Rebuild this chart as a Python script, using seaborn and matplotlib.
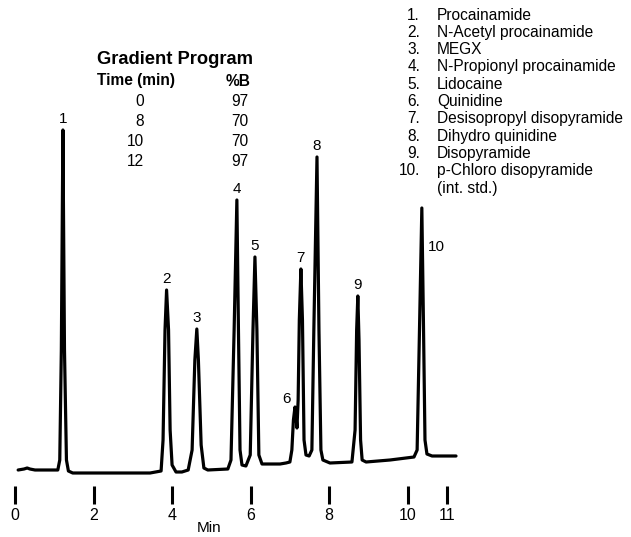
import matplotlib
matplotlib.use('Agg')
import matplotlib.pyplot as plt
import seaborn as sns
import pandas as pd

# chromatogram trace (time in min, detector signal)
time_min = [0.08, 0.23, 0.31, 0.38, 0.51, 1.09, 1.14, 1.18, 1.22, 1.26, 1.31, 1.36, 1.47,
            3.44, 3.72, 3.77, 3.82, 3.86, 3.91, 3.95, 4.00, 4.10, 4.25,
            4.41, 4.51, 4.58, 4.63, 4.67, 4.74, 4.81, 4.91,
            5.42, 5.50, 5.58, 5.65, 5.69, 5.73, 5.78, 5.88,
            5.99, 6.06, 6.11, 6.16, 6.21, 6.29, 6.75, 6.90, 7.00,
            7.05, 7.09, 7.13, 7.16, 7.18, 7.21, 7.24, 7.28, 7.32, 7.36, 7.41, 7.49,
            7.56, 7.61, 7.69, 7.74, 7.79, 7.84, 8.02, 8.58,
            8.66, 8.70, 8.73, 8.76, 8.80, 8.84, 8.94, 9.55, 10.16,
            10.24, 10.30, 10.36, 10.40, 10.44, 10.49, 10.62, 11.23]
signal = [2, 3, 4, 3, 2, 2, 12, 122, 342, 122, 12, 1, -1,
          -1, 1, 32, 142, 182, 142, 42, 7, 0, 0,
          2, 22, 112, 143, 112, 27, 4, 2,
          3, 12, 142, 272, 142, 22, 7, 6,
          17, 142, 215, 142, 17, 8, 8, 9, 10,
          22, 52, 65, 54, 44, 72, 152, 203, 152, 32, 17, 16,
          22, 142, 315, 142, 22, 12, 9, 10,
          42, 142, 176, 132, 32, 12, 10, 12, 15,
          22, 142, 264, 152, 32, 18, 16, 16]

peak_ids = ['1', '2', '3', '4', '5', '6', '7', '8', '9', '10']
peak_time = [1.22, 3.86, 4.63, 5.65, 6.11, 7.13, 7.28, 7.69, 8.73, 10.36]
peak_top = [342, 182, 143, 272, 215, 65, 203, 315, 176, 264]

tick_min = [0, 2, 4, 6, 8, 10, 11]

compounds = ['Procainamide', 'N-Acetyl procainamide', 'MEGX', 'N-Propionyl procainamide',
             'Lidocaine', 'Quinidine', 'Desisopropyl disopyramide', 'Dihydro quinidine',
             'Disopyramide', 'p-Chloro disopyramide']

grad_time = [0, 8, 10, 12]
grad_b = [97, 70, 70, 97]

sns.set_theme(style='white')
plt.rcParams['font.family'] = ['Liberation Sans', 'DejaVu Sans']
plt.rcParams['text.color'] = 'black'
plt.rcParams['xtick.color'] = 'black'
plt.rcParams['axes.labelcolor'] = 'black'

W, H = 631, 537
fig = plt.figure(figsize=(W / 100, H / 100), dpi=100)
ax = fig.add_axes([5 / W, 33 / H, 620 / W, 504 / H])

df = pd.DataFrame({'time': time_min, 'signal': signal})
sns.lineplot(data=df, x='time', y='signal', ax=ax, color='black', linewidth=2.3,
             sort=False, estimator=None)

ax.set_xlim((5 - 15) / 39.27, (625 - 15) / 39.27)
ax.set_ylim(-32, 472)
ax.set_yticks([])
ax.set_ylabel('')
ax.set_xticks(tick_min)
ax.set_xticklabels([str(t) for t in tick_min])
ax.tick_params(axis='x', direction='in', length=13, width=2.2, color='black',
               labelcolor='black', pad=3, labelsize=11.5, bottom=True)
ax.set_xlabel('Min', fontsize=11)
ax.xaxis.set_label_coords((209 - 5) / 620, -17 / 504)
for s in ax.spines.values():
    s.set_visible(False)

# peak numbers
for pid, t, h in zip(peak_ids, peak_time, peak_top):
    if pid == '6':
        ax.annotate(pid, (t, h), xytext=(-3, 1), textcoords='offset points',
                    ha='right', va='bottom', fontsize=11)
    elif pid == '10':
        ax.annotate(pid, (t, h), xytext=(4, -33), textcoords='offset points',
                    ha='left', va='bottom', fontsize=11)
    else:
        ax.annotate(pid, (t, h), xytext=(0, 3), textcoords='offset points',
                    ha='center', va='bottom', fontsize=11)


def fx(px):
    return px / W


def fy(py):
    return 1 - py / H


# gradient program table
fig.text(fx(175), fy(60), 'Gradient Program', ha='center', va='center',
         fontsize=13.2, fontweight='bold')
fig.text(fx(97), fy(81), 'Time (min)', ha='left', va='center', fontsize=11.2, fontweight='bold')
fig.text(fx(250), fy(81), '%B', ha='right', va='center', fontsize=11.2, fontweight='bold')
for i, (t, b) in enumerate(zip(grad_time, grad_b)):
    y = 101 + 20 * i
    fig.text(fx(144), fy(y), str(t), ha='right', va='center', fontsize=11.2)
    fig.text(fx(248), fy(y), str(b), ha='right', va='center', fontsize=11.2)

# compound list
for i, name in enumerate(compounds):
    y = 15 + 17.3 * i
    fig.text(fx(420), fy(y), f'{i + 1}.', ha='right', va='center', fontsize=11.2)
    fig.text(fx(437), fy(y), name, ha='left', va='center', fontsize=11.2)
fig.text(fx(437), fy(15 + 17.3 * 10), '(int. std.)', ha='left', va='center', fontsize=11.2)

fig.savefig('out.png', dpi=100)
